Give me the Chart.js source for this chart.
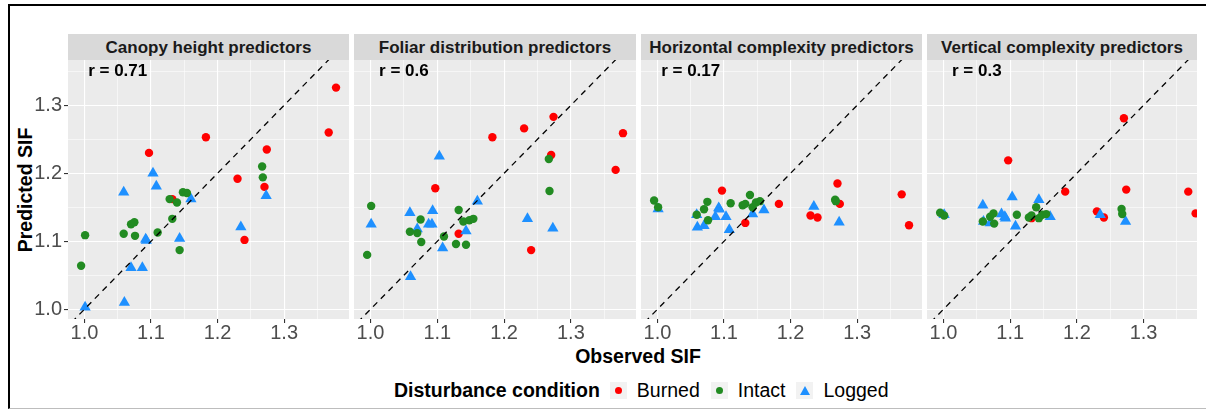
<!DOCTYPE html>
<html>
  <head>
    <meta charset="UTF-8" />
    <title>Observed vs predicted SIF</title>
    <script src="https://cdn.jsdelivr.net/npm/chart.js"></script>
    <style>
      body {
        margin: 0;
        width: 1206px;
        height: 410px;
        overflow: hidden;
        background: #fff;
        font-family: "Liberation Sans", Arial, sans-serif;
        position: relative;
      }
      #frame {
        position: absolute;
        left: 8px;
        top: 4px;
        width: 1300px;
        height: 402px;
        border-top: 2px solid #000;
        border-left: 2px solid #000;
        border-bottom: 1px solid #bdbdbd;
      }
      .panel {
        position: absolute;
        top: 40px;
        height: 309px;
      }
      .strip {
        position: absolute;
        top: 34px;
        height: 26px;
        line-height: 28px;
        overflow: hidden;
        background: #d9d9d9;
        color: #1a1a1a;
        font-weight: bold;
        font-size: 17px;
        text-align: center;
        white-space: nowrap;
      }
      .rlab {
        position: absolute;
        transform: translate(-50%, -50%);
        font-weight: bold;
        font-size: 17px;
        color: #000;
        white-space: nowrap;
      }
      #ytitle {
        position: absolute;
        left: 25px;
        top: 190px;
        transform: translate(-50%, -50%) rotate(-90deg);
        font-weight: bold;
        font-size: 19.5px;
        white-space: nowrap;
      }
      #xtitle {
        position: absolute;
        left: 638px;
        top: 356px;
        transform: translate(-50%, -50%);
        font-weight: bold;
        font-size: 19.5px;
        white-space: nowrap;
      }
      #legend {
        position: absolute;
        left: 394px;
        top: 380px;
        height: 21px;
        display: flex;
        align-items: center;
        font-size: 19.5px;
        white-space: nowrap;
      }
      #legend .ltitle {
        font-weight: bold;
        margin-right: 10px;
      }
      #legend .key {
        width: 17px;
        height: 17px;
        background: #f2f2f2;
        display: flex;
        align-items: center;
        justify-content: center;
        margin-right: 10px;
      }
      #legend .lab {
        margin-right: 11px;
      }
      .dot {
        width: 7px;
        height: 7px;
        border-radius: 50%;
      }
      .tri {
        width: 0;
        height: 0;
        border-left: 5px solid transparent;
        border-right: 5px solid transparent;
        border-bottom: 9px solid #1e90ff;
      }
    </style>
  </head>
  <body>
    <div id="frame"></div>
    <div id="ytitle">Predicted SIF</div>
    <div id="xtitle">Observed SIF</div>
    <div id="legend"></div>
  </body>
  <script>
    // facet titles and correlation labels
    const panelTitles = [
      "Canopy height predictors",
      "Foliar distribution predictors",
      "Horizontal complexity predictors",
      "Vertical complexity predictors",
    ];
    const rValues = ["0.71", "0.6", "0.17", "0.3"];
    const groups = ["Burned", "Intact", "Logged"];

    // observed SIF per disturbance condition (same in every panel)
    const obsBurned = [1.097, 1.132, 1.1825, 1.23, 1.2405, 1.2705, 1.274, 1.367, 1.378];
    const obsIntact = [0.995, 1.001, 1.059, 1.07, 1.075, 1.076, 1.11, 1.128, 1.132, 1.139, 1.143, 1.148, 1.154, 1.267, 1.268];
    const obsLogged = [1.001, 1.059, 1.06, 1.07, 1.087, 1.092, 1.093, 1.103, 1.108, 1.143, 1.16, 1.235, 1.273];

    // predicted SIF, canopy height predictors
    const canopyBurned = [1.23, 1.162, 1.253, 1.192, 1.102, 1.18, 1.235, 1.26, 1.326];
    const canopyIntact = [1.064, 1.109, 1.111, 1.125, 1.128, 1.108, 1.113, 1.162, 1.133, 1.157, 1.087, 1.172, 1.171, 1.21, 1.194];
    const canopyLogged = [1.003, 1.172, 1.01, 1.061, 1.061, 1.103, 1.101, 1.2, 1.181, 1.104, 1.162, 1.121, 1.167];

    // foliar distribution predictors
    const foliarBurned = [1.178, 1.111, 1.253, 1.266, 1.087, 1.227, 1.283, 1.205, 1.259];
    const foliarIntact = [1.08, 1.152, 1.114, 1.112, 1.132, 1.099, 1.107, 1.096, 1.146, 1.129, 1.095, 1.131, 1.133, 1.221, 1.174];
    const foliarLogged = [1.125, 1.142, 1.048, 1.118, 1.125, 1.125, 1.145, 1.225, 1.09, 1.115, 1.159, 1.133, 1.119];

    // horizontal complexity predictors
    const horizBurned = [1.1745, 1.127, 1.155, 1.138, 1.135, 1.185, 1.155, 1.169, 1.1235];
    const horizIntact = [1.16, 1.15, 1.139, 1.147, 1.158, 1.131, 1.156, 1.153, 1.155, 1.168, 1.15, 1.157, 1.159, 1.161, 1.159];
    const horizLogged = [1.1475, 1.139, 1.1205, 1.123, 1.136, 1.149, 1.147, 1.136, 1.117, 1.14, 1.146, 1.151, 1.128];

    // vertical complexity predictors
    const vertBurned = [1.219, 1.134, 1.173, 1.144, 1.135, 1.281, 1.176, 1.173, 1.141];
    const vertIntact = [1.142, 1.138, 1.129, 1.136, 1.141, 1.126, 1.139, 1.135, 1.138, 1.15, 1.134, 1.139, 1.14, 1.1475, 1.14];
    const vertLogged = [1.139, 1.153, 1.129, 1.127, 1.14, 1.136, 1.134, 1.165, 1.122, 1.161, 1.136, 1.139, 1.129];

    // axis grid (major + minor) and limits
    const gridVals = [1.0, 1.05, 1.1, 1.15, 1.2, 1.25, 1.3, 1.35];
    const xMin = 0.9753, xMax = 1.3975;
    const yMin = 0.9857, yMax = 1.3666;
    const rLabelX = 1.05, rLabelY = 1.35;

    const colors = { Burned: "#ff0000", Intact: "#228b22", Logged: "#1e90ff" };

    const predicted = [
      { Burned: canopyBurned, Intact: canopyIntact, Logged: canopyLogged },
      { Burned: foliarBurned, Intact: foliarIntact, Logged: foliarLogged },
      { Burned: horizBurned, Intact: horizIntact, Logged: horizLogged },
      { Burned: vertBurned, Intact: vertIntact, Logged: vertLogged },
    ];
    const observed = { Burned: obsBurned, Intact: obsIntact, Logged: obsLogged };

    // where each panel canvas sits on the page (last panel is cut at the right)
    const boxes = [
      { left: 12, width: 337, yAxis: true, xMax: xMax },
      { left: 354, width: 282, yAxis: false, xMax: xMax },
      { left: 641, width: 281, yAxis: false, xMax: xMax },
      { left: 927, width: 270, yAxis: false, xMax: 1.3801 },
    ];

    const isMajor = (v) => Math.abs(v * 10 - Math.round(v * 10)) < 1e-6;
    const tickFont = { family: "'Liberation Sans', Arial, sans-serif", size: 20, lineHeight: 1 };

    const panelBg = {
      id: "panelBg",
      beforeDraw(chart) {
        const a = chart.chartArea;
        const ctx = chart.ctx;
        ctx.save();
        ctx.fillStyle = "#ebebeb";
        ctx.fillRect(a.left, a.top, a.width, a.height);
        ctx.restore();
      },
    };

    function pairs(xs, ys) {
      return xs.map((x, i) => ({ x: x, y: ys[i] }));
    }

    function groupDataset(name, panelIdx) {
      const tri = name === "Logged";
      return {
        label: name,
        data: pairs(observed[name], predicted[panelIdx][name]),
        pointStyle: tri ? "triangle" : "circle",
        pointRadius: tri ? 6.5 : 4.2,
        pointBackgroundColor: colors[name],
        backgroundColor: colors[name],
        pointBorderWidth: 0,
        borderWidth: 0,
        clip: false,
      };
    }

    boxes.forEach((b, i) => {
      const box = document.createElement("div");
      box.className = "panel";
      box.style.left = b.left + "px";
      box.style.width = b.width + "px";
      const canvas = document.createElement("canvas");
      box.appendChild(canvas);
      document.body.appendChild(box);

      const chart = new Chart(canvas, {
        type: "scatter",
        data: {
          datasets: [
            {
              type: "line",
              label: "1:1",
              data: [
                { x: 0.9, y: 0.9 },
                { x: 1.5, y: 1.5 },
              ],
              borderColor: "#000",
              borderWidth: 1.3,
              borderDash: [6, 5],
              pointRadius: 0,
              fill: false,
              clip: 0,
            },
            groupDataset("Intact", i),
            groupDataset("Logged", i),
            groupDataset("Burned", i),
          ],
        },
        options: {
          responsive: true,
          maintainAspectRatio: false,
          animation: false,
          events: [],
          layout: { autoPadding: false, padding: { top: 20, left: 0, right: 0, bottom: 0 } },
          plugins: { legend: { display: false }, tooltip: { enabled: false } },
          scales: {
            x: {
              type: "linear",
              min: xMin,
              max: b.xMax,
              bounds: "data",
              afterBuildTicks: (s) => {
                s.ticks = gridVals.map((v) => ({ value: v }));
              },
              afterFit: (s) => {
                s.height = 30;
              },
              border: { display: false },
              grid: {
                color: "#ffffff",
                lineWidth: (c) => (c.tick && isMajor(c.tick.value) ? 1.1 : 0.55),
                tickLength: 4,
                tickWidth: 1.1,
                tickColor: (c) => (c.tick && isMajor(c.tick.value) ? "#333333" : "rgba(0,0,0,0)"),
              },
              ticks: {
                autoSkip: false,
                maxRotation: 0,
                padding: 0,
                color: "#4d4d4d",
                font: tickFont,
                callback: (v) => (isMajor(v) ? v.toFixed(1) : ""),
              },
            },
            y: {
              type: "linear",
              min: yMin,
              max: yMax,
              bounds: "data",
              afterBuildTicks: (s) => {
                s.ticks = gridVals.map((v) => ({ value: v }));
              },
              afterFit: (s) => {
                s.width = b.yAxis ? 56 : 0;
              },
              border: { display: false },
              grid: {
                color: "#ffffff",
                lineWidth: (c) => (c.tick && isMajor(c.tick.value) ? 1.1 : 0.55),
                drawTicks: b.yAxis,
                tickLength: 4,
                tickWidth: 1.1,
                tickColor: (c) => (c.tick && isMajor(c.tick.value) ? "#333333" : "rgba(0,0,0,0)"),
              },
              ticks: {
                display: b.yAxis,
                autoSkip: false,
                padding: 2,
                color: "#4d4d4d",
                font: tickFont,
                callback: (v) => (isMajor(v) ? v.toFixed(1) : ""),
              },
            },
          },
        },
        plugins: [panelBg],
      });

      // facet strip and r label placed from the chart's own area / scales
      const a = chart.chartArea;
      const strip = document.createElement("div");
      strip.className = "strip";
      strip.style.left = b.left + a.left + "px";
      strip.style.width = a.width + "px";
      strip.textContent = panelTitles[i];
      document.body.appendChild(strip);

      const rlab = document.createElement("div");
      rlab.className = "rlab";
      rlab.textContent = "r = " + rValues[i];
      rlab.style.left = b.left + chart.scales.x.getPixelForValue(rLabelX) + "px";
      rlab.style.top = 40 + chart.scales.y.getPixelForValue(rLabelY) + "px";
      document.body.appendChild(rlab);
    });

    // legend
    const legend = document.getElementById("legend");
    legend.innerHTML = '<span class="ltitle">Disturbance condition</span>';
    groups.forEach((g) => {
      const key = document.createElement("span");
      key.className = "key";
      const sym = document.createElement("span");
      if (g === "Logged") {
        sym.className = "tri";
      } else {
        sym.className = "dot";
        sym.style.background = colors[g];
      }
      key.appendChild(sym);
      const lab = document.createElement("span");
      lab.className = "lab";
      lab.textContent = g;
      legend.appendChild(key);
      legend.appendChild(lab);
    });
  </script>
</html>
